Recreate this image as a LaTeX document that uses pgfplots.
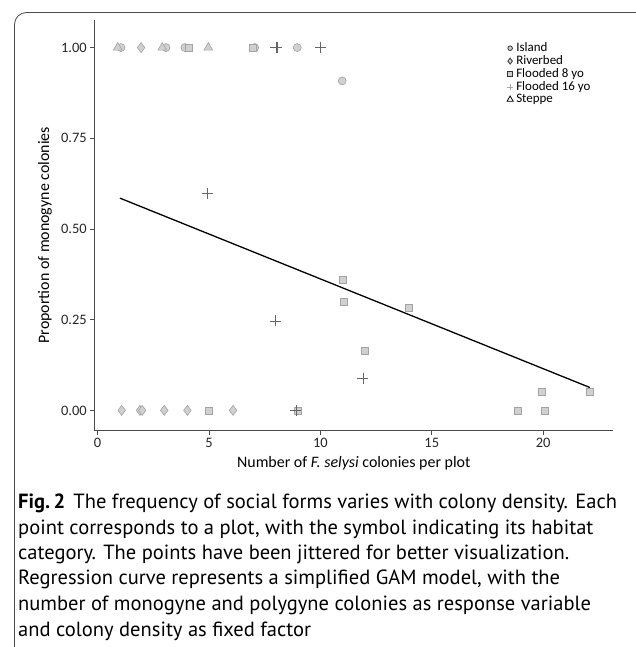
\documentclass[border=0pt]{standalone}
\usepackage{pgfplots}
\pgfplotsset{compat=1.18}
\usepackage{fontspec}
\setmainfont{Carlito}
\newfontfamily\capfont{PT Sans}

\definecolor{ptfill}{HTML}{D0D0D0}
\definecolor{ptdraw}{HTML}{A3A3A3}
\definecolor{axcol}{HTML}{4A4A4A}

\pgfplotsset{
  pts/.style={only marks, forget plot, mark options={fill=ptfill, draw=ptdraw, line width=0.6bp}},
}

\begin{document}
\begin{tikzpicture}
\useasboundingbox (0,0) rectangle (636bp,647bp);
% frame of the figure box
\draw[axcol, line width=0.8bp, rounded corners=12bp] (14.5bp,-2bp) |- (640bp,634.5bp);

\begin{axis}[
    at={(94.3bp,216.3bp)}, anchor=south west,
    scale only axis, width=519bp, height=410.7bp,
    xmin=-0.15, xmax=23.15,
    ymin=-0.056, ymax=1.076,
    axis x line*=bottom, axis y line*=left,
    axis line style={axcol, line width=0.9bp, -},
    tick style={axcol, line width=0.8bp},
    tick align=outside, major tick length=4bp,
    xtick={0,5,10,15,20},
    ytick={0,0.25,0.5,0.75,1},
    /pgf/number format/assume math mode=true,
    yticklabel style={/pgf/number format/fixed, /pgf/number format/fixed zerofill, /pgf/number format/precision=2},
    ticklabel style={font=\fontsize{14.5}{15}\selectfont, text=black!85},
    xlabel={Number of \textit{F. selysi} colonies per plot},
    ylabel={Proportion of monogyne colonies},
    xlabel style={at={(axis description cs:0.5,-0.0786)}, anchor=center, font=\fontsize{16}{17}\selectfont},
    ylabel style={at={(axis description cs:-0.095,0.476)}, anchor=center, font=\fontsize{16}{17}\selectfont},
    legend style={at={(0.795,0.946)}, anchor=north west, draw=none, fill=none,
        inner sep=0pt, row sep=1.2bp, font=\fontsize{13}{13}\selectfont,
        nodes={inner sep=0.6bp},
        /tikz/every odd column/.append style={column sep=2.5bp}},
    legend cell align=left,
    legend image code/.code={\draw[mark repeat=2,mark phase=2,#1] plot coordinates {(0bp,0bp) (4bp,0bp) (8bp,0bp)};},
]
% Island
\addplot[pts, mark=*, mark size=4bp] coordinates {
  (1.05,1) (3.07,1) (3.92,1) (7.05,1) (8.96,1) (10.98,0.908)
};
% Riverbed
\addplot[pts, mark=diamond*, mark size=5bp] coordinates {
  (1.95,1)
  (1.08,0) (1.90,0) (2.00,0) (2.99,0) (4.03,0) (6.08,0)
};
% Flooded 8 yo
\addplot[pts, mark=square*, mark size=3.5bp] coordinates {
  (4.07,1) (6.97,1)
  (11.00,0.361) (11.07,0.298) (13.99,0.283) (12.00,0.163)
  (19.96,0.050) (22.10,0.050)
  (5.00,0) (9.00,0) (18.88,0) (20.08,0)
};
% Flooded 16 yo
\addplot[only marks, forget plot, mark=+, mark size=5.5bp, mark options={draw=black!60, line width=0.45bp}] coordinates {
  (8.00,1) (8.05,1) (10.01,1)
  (4.92,0.598) (7.99,0.247) (11.91,0.089)
  (8.90,0)
};
% Steppe
\addplot[pts, mark=triangle*, mark size=5bp] coordinates {
  (0.90,1) (2.90,1) (4.97,1)
};
% regression curve
\addplot[black, line width=1.3bp, forget plot] coordinates {(1.0,0.585) (22.1,0.063)};

\addlegendimage{only marks, mark=*, mark size=2.3bp, mark options={fill=ptfill, draw=black!80, line width=0.8bp}}
\addlegendentry{Island}
\addlegendimage{only marks, mark=diamond*, mark size=3bp, mark options={fill=ptfill, draw=black!80, line width=0.8bp}}
\addlegendentry{Riverbed}
\addlegendimage{only marks, mark=square*, mark size=2.3bp, mark options={fill=ptfill, draw=black!80, line width=0.8bp}}
\addlegendentry{Flooded 8 yo}
\addlegendimage{only marks, mark=+, mark size=3bp, mark options={draw=black!35, line width=0.6bp}}
\addlegendentry{Flooded 16 yo}
\addlegendimage{only marks, mark=triangle*, mark size=3.5bp, mark options={fill=white, draw=black, line width=0.8bp}}
\addlegendentry{Steppe}
\end{axis}

% caption
\begin{scope}[every node/.style={anchor=base west, inner sep=0pt, font=\capfont\fontsize{20.6}{25}\selectfont}]
\node at (18bp,138bp) {\textbf{Fig.\,2}\hspace{0.4em}The frequency of social forms varies with colony density. Each};
\node at (18bp,112.5bp) {point corresponds to a plot, with the symbol indicating its habitat};
\node at (18bp,87bp) {category. The points have been jittered for better visualization.};
\node at (18bp,62bp) {Regression curve represents a simplified GAM model, with the};
\node at (18bp,36.5bp) {number of monogyne and polygyne colonies as response variable};
\node at (18bp,11bp) {and colony density as fixed factor};
\end{scope}
\end{tikzpicture}
\end{document}
